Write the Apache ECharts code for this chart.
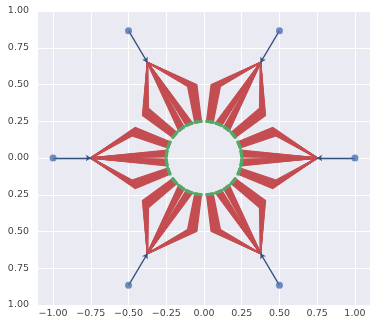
<!DOCTYPE html>
<html>
<head>
<meta charset="utf-8">
<script src="https://cdn.jsdelivr.net/npm/echarts@6/dist/echarts.min.js"></script>
<style>html,body{margin:0;padding:0;background:#fff}#c{width:370px;height:327px}</style>
</head>
<body>
<div id="c"></div>
<script>
// ---- data ----
const xTicks = [-1.00, -0.75, -0.50, -0.25, 0.00, 0.25, 0.50, 0.75, 1.00];
const yTicks = [-1.00, -0.75, -0.50, -0.25, 0.00, 0.25, 0.50, 0.75, 1.00];
const outerNodeX = [1.00, 0.50, -0.50, -1.00, -0.50, 0.50];
const outerNodeY = [0.00, 0.866, 0.866, 0.00, -0.866, -0.866];
const hubX = [0.75, 0.375, -0.375, -0.75, -0.375, 0.375];
const hubY = [0.00, 0.65, 0.65, 0.00, -0.65, -0.65];
const hubAngleDeg = [0, 60, 120, 180, 240, 300];
const bundleAngleDeg = [-21, -7, 7, 21];
const bundleElbowR = [0.50, 0, 0, 0.50];
const leafSpreadDeg = [-5, -4.2, -3.4, -2.6, -1.8, -1.0, -0.3, 0.3, 1.0, 1.8, 2.6, 3.4, 4.2, 5];
const innerRadius = 0.25;

// ---- build ----
const rad = d => d * Math.PI / 180;
const edgeLines = [];
const leafPts = [];
for (let h = 0; h < hubX.length; h++) {
  for (let b = 0; b < bundleAngleDeg.length; b++) {
    for (const s of leafSpreadDeg) {
      const a = hubAngleDeg[h] + bundleAngleDeg[b] + s;
      const leaf = [innerRadius * Math.cos(rad(a)), innerRadius * Math.sin(rad(a))];
      leafPts.push(leaf);
      const coords = [[hubX[h], hubY[h]]];
      if (bundleElbowR[b] > 0) {
        const ea = hubAngleDeg[h] + bundleAngleDeg[b] + s * 0.7;
        coords.push([bundleElbowR[b] * Math.cos(rad(ea)), bundleElbowR[b] * Math.sin(rad(ea))]);
      }
      coords.push(leaf);
      edgeLines.push({ coords });
    }
  }
}
const arrowLines = outerNodeX.map((x, i) => ({ coords: [[x, outerNodeY[i]], [hubX[i], hubY[i]]] }));
const outerPts = outerNodeX.map((x, i) => [x, outerNodeY[i]]);

const fmtX = v => (v < 0 ? '\u2212' : '') + Math.abs(v).toFixed(2);
const fmtY = v => Math.abs(v).toFixed(2);

const chart = echarts.init(document.getElementById('c'), null, { renderer: 'canvas' });
chart.setOption({
  animation: false,
  backgroundColor: '#ffffff',
  grid: { left: 38, right: -3, top: 11, bottom: 22, show: true, backgroundColor: '#eaeaf2', borderWidth: 0 },
  xAxis: {
    type: 'value', min: -1.1, max: 1.1,
    axisLine: { show: false },
    axisTick: { show: false, customValues: xTicks },
    splitLine: { show: true, lineStyle: { color: '#ffffff', width: 1 } },
    axisLabel: {
      margin: 4, fontFamily: 'DejaVu Sans', fontSize: 9.5, color: '#444444',
      customValues: xTicks, formatter: fmtX
    }
  },
  yAxis: {
    type: 'value', min: -1.0, max: 1.0, interval: 0.25,
    axisLine: { show: false }, axisTick: { show: false },
    splitLine: { show: true, lineStyle: { color: '#ffffff', width: 1 } },
    axisLabel: { margin: 9, fontFamily: 'DejaVu Sans', fontSize: 9.5, color: '#444444', formatter: fmtY }
  },
  series: [
    {
      type: 'lines', coordinateSystem: 'cartesian2d', polyline: true, z: 2,
      lineStyle: { color: '#c44e52', width: 1.5, opacity: 1 },
      data: edgeLines, silent: true
    },
    {
      type: 'scatter', z: 3, symbol: 'circle', symbolSize: 3.2,
      itemStyle: { color: '#55a868' }, data: leafPts, silent: true
    },
    {
      type: 'lines', coordinateSystem: 'cartesian2d', z: 4,
      symbol: ['none', 'arrow'], symbolSize: 5,
      lineStyle: { color: '#34507e', width: 1.3, opacity: 1 },
      data: arrowLines, silent: true
    },
    {
      type: 'scatter', z: 5, symbol: 'circle', symbolSize: 7,
      itemStyle: { color: '#4c72b0' }, data: outerPts, silent: true
    }
  ]
});
</script>
</body>
</html>
